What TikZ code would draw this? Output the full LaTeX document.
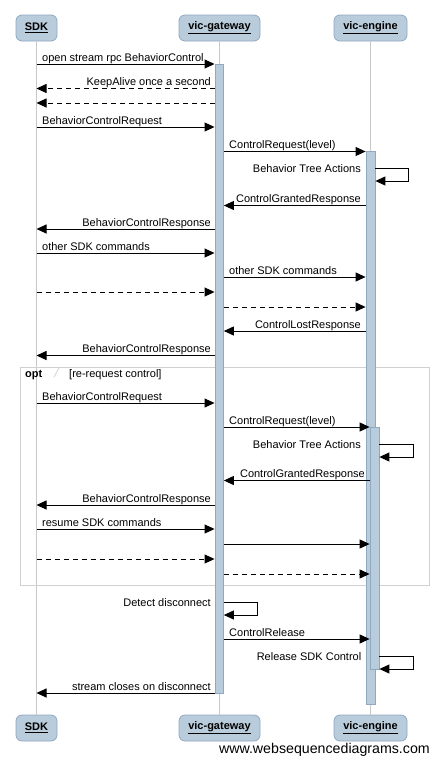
\documentclass[tikz,border=0pt]{standalone}
\usepackage{fontspec}
\setmainfont{Liberation Sans}
\usetikzlibrary{arrows.meta}
\definecolor{boxfill}{RGB}{185,204,219}
\definecolor{boxline}{RGB}{143,169,194}
\definecolor{lifegray}{RGB}{200,200,200}
\definecolor{framegray}{RGB}{208,208,208}
\begin{document}
\begin{tikzpicture}[x=1pt,y=-1pt,
  head/.style={draw=boxline,fill=boxfill,rounded corners=6pt,minimum height=26pt,inner sep=0pt,font=\fontsize{11}{13}\selectfont\bfseries,line width=0.8pt},
  life/.style={draw=lifegray,line width=0.8pt},
  actbar/.style={draw=boxline,fill=boxfill,inner sep=0pt,line width=0.8pt},
  msg/.style={line width=0.9pt,-{Triangle[length=10pt,width=9pt]}},
  dmsg/.style={msg,dash pattern=on 5pt off 4pt},
  lbl/.style={inner sep=0pt,font=\fontsize{11}{13}\selectfont},
]
\useasboundingbox (0,0) rectangle (439,764);
\fill[white] (0,0) rectangle (439,764);
% heads
\node[head,minimum width=41pt] (sdkT) at (36.5,28) {\underline{SDK}};
\node[head,minimum width=81pt] (gwT) at (219.5,28) {\underline{vic-gateway}};
\node[head,minimum width=73pt] (enT) at (370.5,28) {\underline{vic-engine}};
\node[head,minimum width=41pt] (sdkB) at (36.5,728) {\underline{SDK}};
\node[head,minimum width=81pt] (gwB) at (219.5,728) {\underline{vic-gateway}};
\node[head,minimum width=73pt] (enB) at (370.5,728) {\underline{vic-engine}};
% lifelines
\draw[life] (sdkT.south) -- (sdkB.north);
\draw[life] (gwT.south) -- (gwB.north);
\draw[life] (enT.south) -- (enB.north);
% opt frame
\draw[framegray,line width=0.9pt] (20,367) rectangle (429,585);
\draw[framegray,line width=0.7pt] (59.5,367) -- (54,377);
\node[lbl,anchor=base west,font=\fontsize{11}{13}\selectfont\bfseries] (optl) at (25,377) {opt};
\node[lbl,anchor=base west] (optc) at (69,377) {[re-request control]};
% activation bars
\node[actbar,minimum width=8.5pt,minimum height=629pt,anchor=north] (gwbar) at (219.2,64) {};
\node[actbar,minimum width=9pt,minimum height=553pt,anchor=north] (eb1) at (370.5,151) {};
\node[actbar,minimum width=9pt,minimum height=242pt,anchor=north] (eb2) at (374.5,427) {};
% messages
\draw[msg] (sdkT.south |- 0,64) -- (gwbar.west |- 0,64);
\node[lbl,anchor=base west] (t1) at (42,61) {open stream rpc BehaviorControl};
\draw[dmsg] (gwbar.west |- 0,88.5) -- (sdkT.south |- 0,88.5);
\node[lbl,anchor=base east] (t2) at (211,85.5) {KeepAlive once a second};
\draw[dmsg] (gwbar.west |- 0,103) -- (sdkT.south |- 0,103);
\draw[msg] (sdkT.south |- 0,127) -- (gwbar.west |- 0,127);
\node[lbl,anchor=base west] (t4) at (42,124) {BehaviorControlRequest};
\draw[msg] (gwbar.east |- 0,151.5) -- (eb1.west |- 0,151.5);
\node[lbl,anchor=base west] (t5) at (229,148.5) {ControlRequest(level)};
\draw[msg] (eb1.east |- 0,168) -- (408,168) -- (408,181) -- (eb1.east |- 0,181);
\node[lbl,anchor=base east] (t6) at (361,172) {Behavior Tree Actions};
\draw[msg] (eb1.west |- 0,205.5) -- (gwbar.east |- 0,205.5);
\node[lbl,anchor=base east] (t7) at (361,202.5) {ControlGrantedResponse};
\draw[msg] (gwbar.west |- 0,229) -- (sdkT.south |- 0,229);
\node[lbl,anchor=base east] (t8) at (211,226) {BehaviorControlResponse};
\draw[msg] (sdkT.south |- 0,253) -- (gwbar.west |- 0,253);
\node[lbl,anchor=base west] (t9) at (42,250) {other SDK commands};
\draw[msg] (gwbar.east |- 0,277) -- (eb1.west |- 0,277);
\node[lbl,anchor=base west] (t10) at (229,274) {other SDK commands};
\draw[dmsg] (sdkT.south |- 0,292) -- (gwbar.west |- 0,292);
\draw[dmsg] (gwbar.east |- 0,307) -- (eb1.west |- 0,307);
\draw[msg] (eb1.west |- 0,331) -- (gwbar.east |- 0,331);
\node[lbl,anchor=base east] (t13) at (361,328) {ControlLostResponse};
\draw[msg] (gwbar.west |- 0,355.5) -- (sdkT.south |- 0,355.5);
\node[lbl,anchor=base east] (t14) at (211,352.5) {BehaviorControlResponse};
% opt section
\draw[msg] (sdkT.south |- 0,403) -- (gwbar.west |- 0,403);
\node[lbl,anchor=base west] (t15) at (42,400) {BehaviorControlRequest};
\draw[msg] (gwbar.east |- 0,427) -- (eb2.west |- 0,427);
\node[lbl,anchor=base west] (t16) at (229,424) {ControlRequest(level)};
\draw[msg] (eb2.east |- 0,444) -- (413,444) -- (413,457) -- (eb2.east |- 0,457);
\node[lbl,anchor=base east] (t17) at (361,448) {Behavior Tree Actions};
\draw[msg] (eb2.west |- 0,480.5) -- (gwbar.east |- 0,480.5);
\node[lbl,anchor=base east] (t18) at (365,477.5) {ControlGrantedResponse};
\draw[msg] (gwbar.west |- 0,505) -- (sdkT.south |- 0,505);
\node[lbl,anchor=base east] (t19) at (211,502) {BehaviorControlResponse};
\draw[msg] (sdkT.south |- 0,529) -- (gwbar.west |- 0,529);
\node[lbl,anchor=base west] (t20) at (42,526) {resume SDK commands};
\draw[msg] (gwbar.east |- 0,544) -- (eb2.west |- 0,544);
\draw[dmsg] (sdkT.south |- 0,559) -- (gwbar.west |- 0,559);
\draw[dmsg] (gwbar.east |- 0,574) -- (eb2.west |- 0,574);
% after opt
\draw[msg] (gwbar.east |- 0,602) -- (257,602) -- (257,615) -- (gwbar.east |- 0,615);
\node[lbl,anchor=base east] (t24) at (211,606) {Detect disconnect};
\draw[msg] (gwbar.east |- 0,639) -- (eb2.west |- 0,639);
\node[lbl,anchor=base west] (t25) at (229,636) {ControlRelease};
\draw[msg] (eb2.east |- 0,656) -- (413,656) -- (413,669) -- (eb2.east |- 0,669);
\node[lbl,anchor=base east] (t26) at (361.5,660) {Release SDK Control};
\draw[msg] (gwbar.west |- 0,693) -- (sdkT.south |- 0,693);
\node[lbl,anchor=base east] (t27) at (211,690) {stream closes on disconnect};
% footer
\node[inner sep=0pt,anchor=base east,font=\fontsize{14.2}{16}\selectfont] (wsd) at (430,753) {www.websequencediagrams.com};
\end{tikzpicture}
\end{document}
